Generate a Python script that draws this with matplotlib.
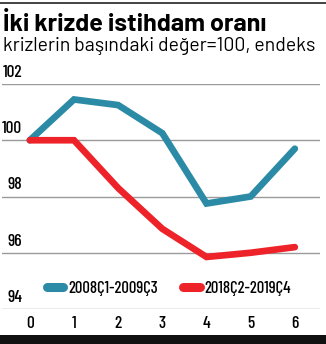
import matplotlib.pyplot as plt
from matplotlib.lines import Line2D

# quarters since the start of each crisis, index (start = 100)
quarters = [0, 1, 2, 3, 4, 5, 6]
crisis_2008 = [100.0, 101.45, 101.25, 100.25, 97.75, 98.0, 99.7]
crisis_2018 = [100.0, 100.0, 98.3, 96.85, 95.85, 96.0, 96.2]
series_names = ["2008Ç1-2009Ç3", "2018Ç2-2019Ç4"]
y_ticks = [94, 96, 98, 100, 102]

BLUE = "#2b8aa6"
RED = "#ee2229"
GRID = "#9a9a9a"
NARROW = "Barlow Condensed"
HEAD = "Barlow"

W, H = 326, 344
fig = plt.figure(figsize=(W / 100, H / 100), dpi=100)

# axes box placed in pixels: left, right, bottom (94) and top (102)
left, right, bottom, top = 2, 320, 309, 84
ax = fig.add_axes([left / W, 1 - bottom / H, (right - left) / W, (bottom - top) / H])
ax.set_xlim(-0.63, 6.57)
ax.set_ylim(94, 102)
for s in ax.spines.values():
    s.set_visible(False)

for v in y_ticks:
    ax.axhline(v, color=GRID, lw=1.0, zorder=1)
    ax.annotate(str(v), xy=(0.063, v), xycoords=ax.get_yaxis_transform(),
                xytext=(0, 3), textcoords="offset points",
                ha="right", va="bottom", fontsize=12.5, family=NARROW,
                fontweight="medium")
ax.set_yticks([])

ax.plot(quarters, crisis_2008, color=BLUE, lw=4.8, solid_capstyle="round",
        solid_joinstyle="miter", zorder=3)
ax.plot(quarters, crisis_2018, color=RED, lw=4.8, solid_capstyle="round",
        solid_joinstyle="miter", zorder=3)

ax.set_xticks(quarters)
ax.set_xticklabels([str(q) for q in quarters], family=NARROW, fontsize=12.5,
                   fontweight="medium")
ax.tick_params(axis="x", length=0, pad=5)

handles = [Line2D([], [], color=BLUE, lw=6.5, solid_capstyle="round"),
           Line2D([], [], color=RED, lw=6.5, solid_capstyle="round")]
ax.legend(handles, series_names, loc="lower center", bbox_to_anchor=(0.525, -0.01),
          ncol=2, frameon=False, handlelength=1.0, handletextpad=0.3,
          columnspacing=1.5, prop={"family": NARROW, "size": 12, "weight": "medium"})

fig.text(3 / W, 1 - 31 / H, "İki krizde istihdam oranı", fontsize=18,
         fontweight="bold", family=HEAD, ha="left", va="baseline")
fig.text(3 / W, 1 - 51 / H, "krizlerin başındaki değer=100, endeks",
         fontsize=14, ha="left", va="baseline", family=HEAD)

# rule at the top and the thick bar at the bottom
fig.add_artist(Line2D([0, 1], [1 - 3 / H, 1 - 3 / H], color="#222222", lw=1.2))
fig.add_artist(plt.Rectangle((0, 0), 1, 9 / H, color="#111111", lw=0))

fig.savefig("out.png", dpi=100)
